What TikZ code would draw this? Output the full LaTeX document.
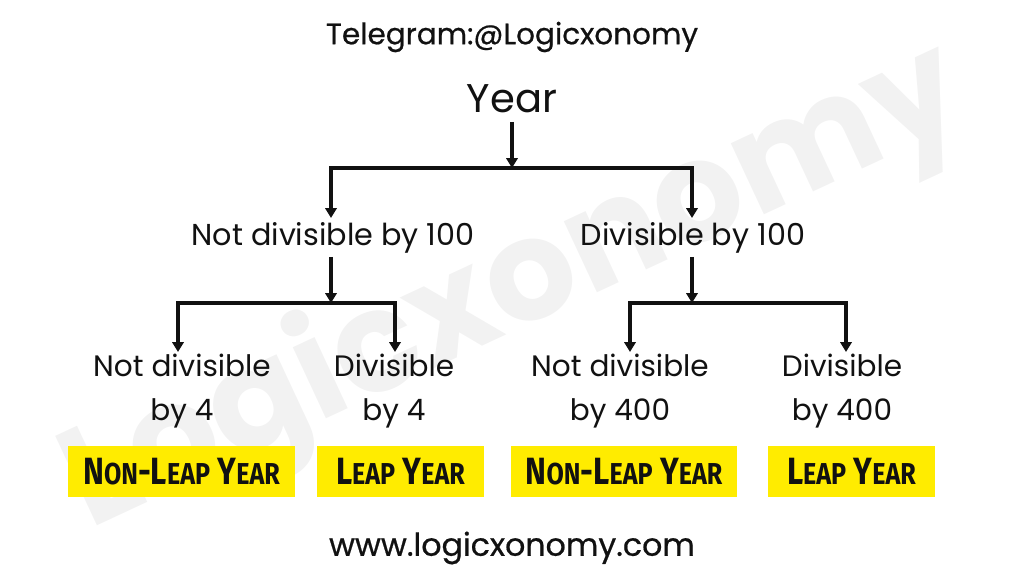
\documentclass[tikz,border=0pt]{standalone}
\usepackage{fontspec}
\setmainfont{Poppins}
\newfontfamily\boxfont[FakeStretch=0.83]{Fira Sans Bold}
\newfontfamily\headfont[FakeBold=0.6]{Poppins}
\newfontfamily\wmfont{Poppins}[BoldFont=* Bold]
\usetikzlibrary{arrows.meta,calc}
\definecolor{ink}{HTML}{111111}
\definecolor{hl}{HTML}{FFEC00}
\tikzset{
  arr/.style={line width=2.2pt, draw=ink, -{Triangle[width=8pt,length=7pt]}, line join=miter},
  lbl/.style={text=ink, inner sep=0pt, align=center},
  mid/.style={lbl, font=\fontsize{21.5}{24}\selectfont},
  leaf/.style={lbl, font=\fontsize{21}{31}\selectfont},
  res/.style={fill=hl, text=ink, inner sep=0pt, font=\boxfont\fontsize{27}{29}\selectfont},
}
\newcommand{\bigc}[1]{{\fontsize{27}{29}\selectfont #1}}
\newcommand{\smc}[1]{{\fontsize{21.5}{29}\selectfont #1}}
\begin{document}
\begin{tikzpicture}[x=0.025cm,y=-0.025cm]
\useasboundingbox (0,0) rectangle (1024,576);
% watermark
\node[text=black!5, rotate=25, font=\wmfont\bfseries\fontsize{100}{100}\selectfont, inner sep=0pt] (wm) at (515,290) {Logicxonomy};
% headers
\node[lbl, font=\headfont\fontsize{21}{24}\selectfont] (tg) at (512,37) {Telegram:@Logicxonomy};
\node[lbl, font=\fontsize{28.5}{32}\selectfont] (year) at (512,99) {Year};
\node[lbl, font=\headfont\fontsize{22.5}{24}\selectfont] (web) at (512,548) {www.logicxonomy.com};
% level 1
\coordinate (j0) at (512,168);
\node[mid] (nd100) at (333,238) {Not divisible by 100};
\node[mid] (d100) at (693,238) {Divisible by 100};
% level 2
\coordinate (j1) at (331,303);
\coordinate (j2) at (692,303);
\node[leaf] (l1) at (182,391) {Not divisible\\by 4};
\node[leaf] (l2) at (394,391) {Divisible\\by 4};
\node[leaf] (l3) at (620,391) {Not divisible\\by 400};
\node[leaf] (l4) at (842,391) {Divisible\\by 400};
% results
\node[res, minimum width=227*0.025cm, minimum height=51*0.025cm] (r1) at (181.5,471.5) {\bigc{N}\smc{ON}-\bigc{L}\smc{EAP} \bigc{Y}\smc{EAR}};
\node[res, minimum width=167*0.025cm, minimum height=51*0.025cm] (r2) at (400.5,471.5) {\bigc{L}\smc{EAP} \bigc{Y}\smc{EAR}};
\node[res, minimum width=226*0.025cm, minimum height=51*0.025cm] (r3) at (624,471.5) {\bigc{N}\smc{ON}-\bigc{L}\smc{EAP} \bigc{Y}\smc{EAR}};
\node[res, minimum width=167*0.025cm, minimum height=51*0.025cm] (r4) at (851.5,471.5) {\bigc{L}\smc{EAP} \bigc{Y}\smc{EAR}};
% connectors
\draw[arr] ($(year.center)+(0,23)$) -- (j0);
\draw[arr] (j0) -| ($(nd100.center)+(-2,-20)$);
\draw[arr] (j0) -| ($(d100.center)+(-1,-20)$);
\draw[arr] ($(nd100.center)+(-2,19)$) -- (j1);
\draw[arr] ($(d100.center)+(-1,19)$) -- (j2);
\draw[arr] (j1) -| ($(l1.center)+(-4,-39)$);
\draw[arr] (j1) -| ($(l2.center)+(1,-39)$);
\draw[arr] (j2) -| ($(l3.center)+(10,-39)$);
\draw[arr] (j2) -| ($(l4.center)+(4,-39)$);
\end{tikzpicture}
\end{document}
